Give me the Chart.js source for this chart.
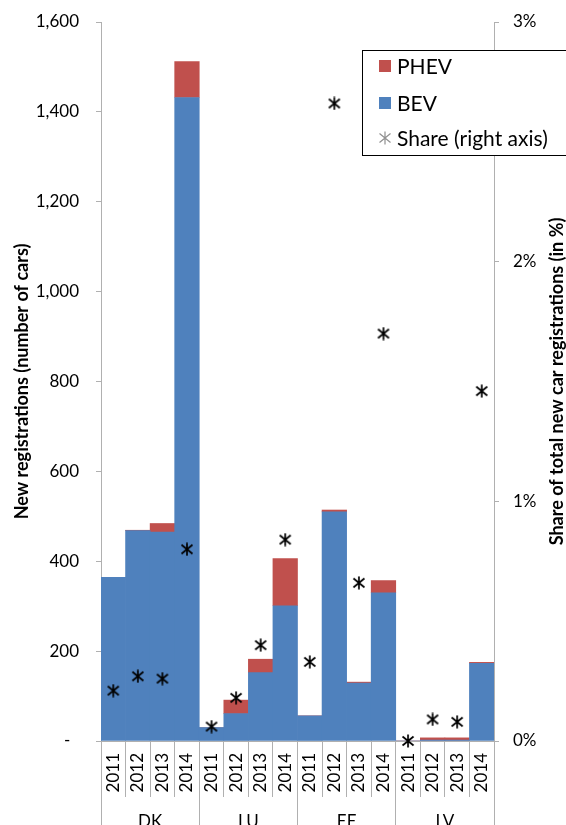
<!DOCTYPE html>
<html>
<head>
<meta charset="utf-8">
<script src="https://cdn.jsdelivr.net/npm/chart.js@4/dist/chart.umd.min.js"></script>
<style>
  body { margin: 0; background: #fff; }
</style>
</head>
<body>
<canvas id="chart" width="566" height="825"></canvas>
<script>
// data
const countries = ['DK', 'LU', 'EE', 'LV'];
const years = ['2011', '2012', '2013', '2014'];
const bev  = [364, 468, 465, 1432, 30, 61, 152, 301, 56, 510, 129, 330, 0, 2, 2, 173];
const phev = [0, 1, 19, 80, 0, 30, 30, 105, 0, 4, 2, 27, 0, 5, 5, 2];
const share = [0.21, 0.27, 0.26, 0.80, 0.06, 0.18, 0.40, 0.84, 0.33, 2.66, 0.66, 1.70, 0.00, 0.09, 0.08, 1.46];
const leftTicks = [0, 200, 400, 600, 800, 1000, 1200, 1400, 1600];
const rightTicks = [0, 1, 2, 3];

const labels = countries.flatMap(() => years);

const FONT = 'Lato';
const BLUE = '#4F81BD';
const RED = '#C0504D';
const AXIS = '#b0b0b0';

// asterisk marker (X + vertical bar)
function makeStar(color, w) {
  const c = document.createElement('canvas');
  c.width = 14; c.height = 14;
  const g = c.getContext('2d');
  g.strokeStyle = color;
  g.lineWidth = w;
  g.beginPath();
  g.moveTo(7, 0.5); g.lineTo(7, 13.5);
  g.moveTo(1.5, 2.5); g.lineTo(12.5, 11.5);
  g.moveTo(1.5, 11.5); g.lineTo(12.5, 2.5);
  g.stroke();
  return c;
}
const star = makeStar('#000', 1.7);
const starGray = makeStar('#909090', 1.2);

// legend box + axis titles
const extras = {
  id: 'extras',
  afterDraw(chart) {
    const ctx = chart.ctx;
    const area = chart.chartArea;
    const midY = (area.top + area.bottom) / 2;
    ctx.save();
    // legend
    ctx.fillStyle = '#fff';
    ctx.fillRect(362.5, 50.5, 210, 105);
    ctx.strokeStyle = '#000';
    ctx.lineWidth = 1;
    ctx.strokeRect(362.5, 50.5, 210, 105);
    ctx.font = '21px ' + FONT;
    ctx.textBaseline = 'middle';
    const items = [
      { y: 66, color: RED, text: 'PHEV' },
      { y: 103, color: BLUE, text: 'BEV' },
      { y: 138, color: null, text: 'Share (right axis)' }
    ];
    items.forEach(it => {
      if (it.color) {
        ctx.fillStyle = it.color;
        ctx.fillRect(379, it.y - 6, 12, 12);
      } else {
        ctx.drawImage(starGray, 378, it.y - 7);
      }
      ctx.fillStyle = '#000';
      ctx.fillText(it.text, 397, it.y + 1);
    });
    // axis titles, reading bottom to top
    ctx.textAlign = 'center';
    ctx.font = 'bold 18px ' + FONT;
    [[22, 'New registrations (number of cars)'],
     [557, 'Share of total new car registrations (in %)']].forEach(([x, t]) => {
      ctx.save();
      ctx.translate(x, midY);
      ctx.rotate(-Math.PI / 2);
      ctx.fillText(t, 0, 0);
      ctx.restore();
    });
    ctx.restore();
  }
};

const noPad = s => { s.paddingTop = 0; s.paddingBottom = 0; };

new Chart(document.getElementById('chart'), {
  type: 'bar',
  data: {
    labels: labels,
    datasets: [
      {
        type: 'line',
        label: 'Share (right axis)',
        data: share,
        yAxisID: 'y2',
        showLine: false,
        clip: false,
        pointStyle: star,
        pointRadius: 7,
        pointHoverRadius: 7
      },
      {
        label: 'BEV',
        data: bev,
        backgroundColor: BLUE,
        borderWidth: 0,
        barPercentage: 1,
        categoryPercentage: 1
      },
      {
        label: 'PHEV',
        data: phev,
        backgroundColor: RED,
        borderWidth: 0,
        barPercentage: 1,
        categoryPercentage: 1
      }
    ]
  },
  plugins: [extras],
  options: {
    responsive: false,
    animation: false,
    layout: { padding: { top: 22, left: 0, right: 0, bottom: 0 } },
    plugins: {
      legend: { display: false },
      tooltip: { enabled: false }
    },
    scales: {
      x: {
        stacked: true,
        position: 'bottom',
        weight: 0,
        afterFit: s => { s.height = 56; },
        grid: {
          offset: true,
          drawOnChartArea: false,
          tickLength: 56,
          color: AXIS
        },
        border: { color: AXIS },
        ticks: {
          autoSkip: false,
          minRotation: 90,
          maxRotation: 90,
          padding: -44,
          color: '#000',
          font: { family: FONT, size: 17 }
        }
      },
      xg: {
        type: 'linear',
        position: 'bottom',
        weight: 1,
        min: 0,
        max: 16,
        offset: false,
        afterBuildTicks: axis => {
          axis.ticks = [];
          for (let v = 0; v <= 16; v += 2) axis.ticks.push({ value: v });
        },
        afterFit: s => { s.height = 28; },
        grid: {
          offset: false,
          drawOnChartArea: false,
          tickLength: 28,
          color: c => (c.tick && c.tick.value % 4 === 0) ? AXIS : 'rgba(0,0,0,0)'
        },
        border: { display: false },
        ticks: {
          autoSkip: false,
          maxRotation: 0,
          padding: -14,
          color: '#000',
          font: { family: FONT, size: 17 },
          callback: v => (v % 4 === 2) ? countries[(v - 2) / 4] : ''
        }
      },
      y: {
        stacked: true,
        position: 'left',
        min: 0,
        max: 1600,
        afterBuildTicks: axis => { axis.ticks = leftTicks.map(v => ({ value: v })); },
        afterFit: s => { s.width = 101; noPad(s); },
        grid: { drawOnChartArea: false, tickLength: 5, color: AXIS },
        border: { color: AXIS },
        ticks: {
          padding: 17,
          color: '#000',
          font: { family: FONT, size: 17 },
          callback: v => v === 0 ? '-  ' : v.toLocaleString('en-US')
        }
      },
      y2: {
        position: 'right',
        min: 0,
        max: 3,
        afterBuildTicks: axis => { axis.ticks = rightTicks.map(v => ({ value: v })); },
        afterFit: s => { s.width = 72; noPad(s); },
        grid: { drawOnChartArea: false, tickLength: 5, color: AXIS },
        border: { color: AXIS },
        ticks: {
          padding: 14,
          color: '#000',
          font: { family: FONT, size: 17 },
          callback: v => v + '%'
        }
      }
    }
  }
});
</script>
</body>
</html>
